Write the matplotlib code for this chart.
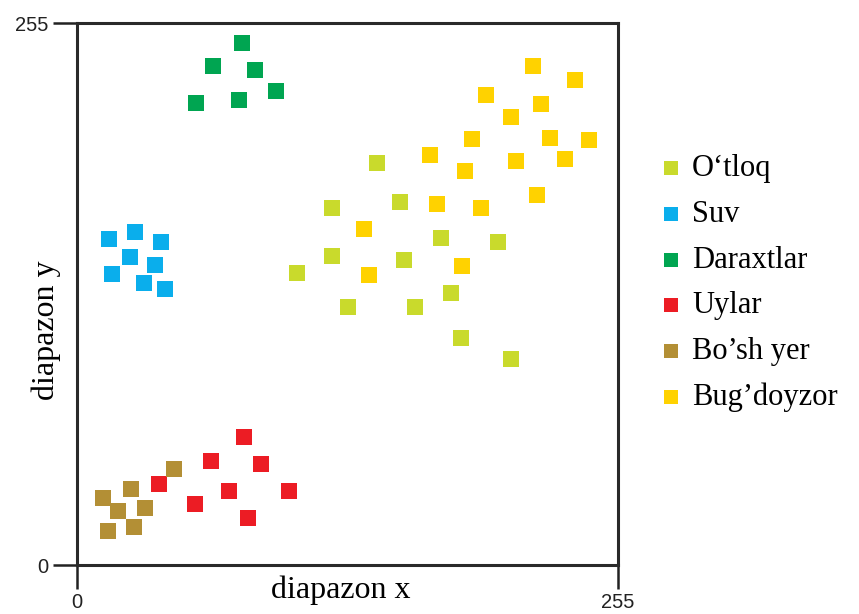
import matplotlib.pyplot as plt

# klasslar bo'yicha nuqtalar (x, y) 0..255 diapazonda
otloq_x = [141.3, 120.2, 152.2, 171.7, 198.6, 120.2, 154.1, 103.8, 176.1, 127.9, 159.5, 180.9, 204.4]
otloq_y = [189.3, 167.8, 170.6, 154.0, 152.1, 145.4, 143.5, 137.2, 127.8, 121.5, 121.5, 106.9, 96.8]

suv_x = [15.1, 27.3, 39.6, 25.0, 36.8, 16.5, 31.6, 41.5]
suv_y = [153.4, 156.7, 152.0, 144.9, 141.2, 136.9, 132.7, 129.9]

daraxt_x = [77.8, 64.1, 83.9, 56.1, 76.4, 93.8]
daraxt_y = [245.6, 234.8, 232.9, 217.4, 218.8, 223.0]

uylar_x = [78.7, 63.3, 86.7, 38.5, 71.5, 100.1, 55.6, 80.5]
uylar_y = [60.4, 48.9, 47.5, 38.1, 34.8, 34.8, 28.8, 22.3]

boshyer_x = [45.7, 25.6, 12.3, 32.2, 19.3, 26.9, 14.6]
boshyer_y = [45.0, 35.6, 31.4, 27.0, 25.5, 17.9, 16.0]

bugdoy_x = [214.8, 234.9, 192.9, 218.7, 204.4, 186.2, 222.9, 241.2, 166.5,
            182.9, 206.8, 230.2, 217.0, 169.5, 190.6, 135.4, 181.3, 137.8]
bugdoy_y = [234.8, 228.0, 221.3, 217.0, 210.9, 200.4, 200.8, 200.0, 192.8,
            185.5, 189.9, 190.9, 174.1, 169.8, 167.8, 157.9, 140.7, 136.4]

names = ["O\u2018tloq", "Suv", "Daraxtlar", "Uylar", "Bo\u2019sh yer", "Bug\u2019doyzor"]
colors = ["#C9DA2C", "#0AAEEC", "#00A551", "#EC1C24", "#B38F35", "#FFD200"]
xs = [otloq_x, suv_x, daraxt_x, uylar_x, boshyer_x, bugdoy_x]
ys = [otloq_y, suv_y, daraxt_y, uylar_y, boshyer_y, bugdoy_y]

fig = plt.figure(figsize=(8.59, 6.14), dpi=100)
ax = fig.add_axes([0.0896, 0.0798, 0.6298, 0.8827])

for x, y, c, n in zip(xs, ys, colors, names):
    ax.scatter(x, y, s=118, marker="s", color=c, linewidths=0, label=n)

ax.set_xlim(0, 255)
ax.set_ylim(0, 255)
ax.set_xticks([0, 255])
ax.set_yticks([0, 255])
ax.tick_params(direction="out", length=17.5, width=1.8, pad=3, colors="#222222",
               labelsize=14.5, labelfontfamily="Liberation Sans")
ax.tick_params(axis="x", pad=2.5)
for s in ax.spines.values():
    s.set_linewidth(2.2)
    s.set_color("#2a2a2a")

ax.set_xlabel("diapazon x", fontsize=23, family="Liberation Serif")
ax.xaxis.set_label_coords(0.488, -0.02)
ax.set_ylabel("diapazon y", fontsize=23, family="Liberation Serif")
ax.yaxis.set_label_coords(-0.03, 0.434)

ax.legend(loc="center left", bbox_to_anchor=(1.072, 0.52), frameon=False,
          prop={"family": "Liberation Serif", "size": 22}, markerscale=0.95,
          handletextpad=0.25, labelspacing=0.55, borderpad=0, borderaxespad=0,
          handlelength=0.9)

fig.savefig("out.png", dpi=100)
